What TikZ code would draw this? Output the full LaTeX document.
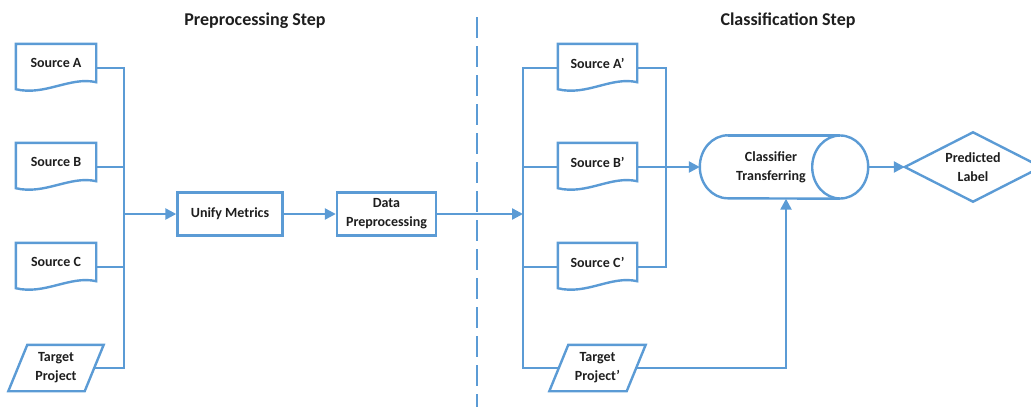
\documentclass[tikz,border=0pt]{standalone}
\usepackage{fontspec}
\setmainfont{Carlito}
\usetikzlibrary{arrows.meta,calc}
\definecolor{flowblue}{HTML}{5B9BD5}
\definecolor{ink}{HTML}{1E1E1E}
\tikzset{
  x=1pt, y=-1pt,
  flow/.style={draw=flowblue, line width=2.4pt, line join=miter},
  arrowflow/.style={flow, -{Triangle[length=11pt,width=11pt]}},
  holder/.style={draw=none, inner sep=0pt, align=center, text=ink,
    font=\bfseries\fontsize{14}{19}\selectfont},
  docnode/.style={holder, minimum width=80pt, minimum height=38pt},
  datanode/.style={holder, minimum width=76pt, minimum height=46pt},
  procbox/.style={flow, fill=white, inner sep=0pt, align=center, text=ink,
    minimum height=43pt, font=\bfseries\fontsize{14}{19}\selectfont},
  steptitle/.style={text=ink, font=\bfseries\fontsize{18}{22}\selectfont},
  divider/.style={draw=flowblue, line width=2pt, dash pattern=on 21pt off 8pt}
}
% document outline with a wavy lower edge around a holder node
\newcommand\docoutline[1]{%
  \draw[flow] (#1.north west) -- (#1.north east) -- (#1.south east)
    .. controls ([shift={(-26pt,6pt)}]#1.south east)
            and ([shift={(29pt,-14pt)}]#1.south west)
    .. ([yshift=-7pt]#1.south west) -- cycle;}
% slanted data outline around a holder node
\newcommand\dataoutline[1]{%
  \draw[flow] ([xshift=9.5pt]#1.north west) -- ([xshift=9.5pt]#1.north east)
    -- ([xshift=-9.5pt]#1.south east) -- ([xshift=-9.5pt]#1.south west) -- cycle;}
\begin{document}
\begin{tikzpicture}
\useasboundingbox (0,0) rectangle (1031,407);
\clip (0,0) rectangle (1031,407);

% step titles and divider
\node[steptitle] (t1) at (255,21) {Preprocessing Step};
\node[steptitle] (t2) at (788,21) {Classification Step};
\draw[divider] (477,17) -- (477,407);

% ---- preprocessing inputs
\node[docnode] (sa) at (56,63)  {Source A};
\node[docnode] (sb) at (56,162) {Source B};
\node[docnode] (sc) at (56,262) {Source C};
\node[datanode] (tp) at (56,368) {Target\\Project};
\docoutline{sa}\docoutline{sb}\docoutline{sc}\dataoutline{tp}

\coordinate (busL) at (124,214);
\draw[flow] ([yshift=-5pt]sa.east) -| (tp.east -| busL) -- (tp.east);
\draw[flow] ([yshift=-5pt]sb.east) -- ([yshift=-5pt]sb.east -| busL);
\draw[flow] ([yshift=-5pt]sc.east) -- ([yshift=-5pt]sc.east -| busL);

\node[procbox, minimum width=105pt] (um) at (230,214) {Unify Metrics};
\node[procbox, minimum width=99pt] (dp) at (386.5,214) {Data\\Preprocessing};
\draw[arrowflow] (busL) -- (um.west);
\draw[arrowflow] (um.east) -- (dp.west);

% ---- classification inputs
\node[docnode, minimum width=79pt] (sa2) at (597.5,63)  {Source A’};
\node[docnode, minimum width=79pt] (sb2) at (597.5,162) {Source B’};
\node[docnode, minimum width=79pt] (sc2) at (597.5,262) {Source C’};
\node[datanode, minimum width=77pt] (tp2) at (597.5,368) {Target\\Project’};
\docoutline{sa2}\docoutline{sb2}\docoutline{sc2}\dataoutline{tp2}

\coordinate (busR) at (523,214);
\coordinate (busR2) at (666,167);
\draw[arrowflow] (dp.east) -- (busR);
\draw[flow] ([yshift=-5pt]sa2.west) -| (tp2.west -| busR) -- (tp2.west);
\draw[flow] ([yshift=-5pt]sb2.west) -- ([yshift=-5pt]sb2.west -| busR);
\draw[flow] ([yshift=-5pt]sc2.west) -- ([yshift=-5pt]sc2.west -| busR);
\draw[flow] ([yshift=-5pt]sa2.east) -| ([yshift=-5pt]sc2.east -| busR2)
  -- ([yshift=-5pt]sc2.east);

% ---- classifier (horizontal cylinder)
\node[holder, minimum width=168pt, minimum height=63pt] (cl) at (784,167) {};
\draw[flow] ([xshift=28pt]cl.north west) arc[start angle=90, end angle=270,
    x radius=28pt, y radius=31.5pt] -- ([xshift=-28pt]cl.south east);
\draw[flow] ([xshift=28pt]cl.north west) -- ([xshift=-28pt]cl.north east);
\draw[flow] ([xshift=-28pt]cl.east) ellipse[x radius=28pt, y radius=31.5pt];
\node[holder] (clt) at (771,167) {Classifier\\Transferring};

% ---- predicted label (diamond)
\node[holder, minimum width=136pt, minimum height=69pt] (pl) at (973,167) {Predicted\\Label};
\draw[flow] (pl.west) -- (pl.north) -- (pl.east) -- (pl.south) -- cycle;

\draw[arrowflow] ([yshift=-5pt]sb2.east) -- (cl.west);
\draw[arrowflow] (tp2.east) -| ([xshift=2pt]cl.south);
\draw[arrowflow] (cl.east) -- (pl.west);
\end{tikzpicture}
\end{document}
